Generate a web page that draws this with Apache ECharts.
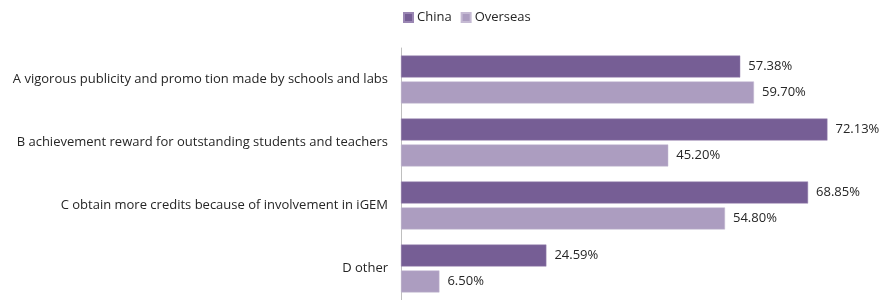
<!DOCTYPE html>
<html><head><meta charset="utf-8">
<script src="https://cdn.jsdelivr.net/npm/echarts@6/dist/echarts.min.js"></script>
<style>html,body{margin:0;padding:0;background:#fff}#c{width:881px;height:300px}</style>
</head><body><div id="c"></div>
<script>
const categories = [
  "A vigorous publicity and promo tion made by schools and labs",
  "B achievement reward for outstanding students and teachers",
  "C obtain more credits because of involvement in iGEM",
  "D other"
];
const china = [57.38, 72.13, 68.85, 24.59];
const overseas = [59.70, 45.20, 54.80, 6.50];
const seriesNames = ["China", "Overseas"];

const chart = echarts.init(document.getElementById('c'));
const font = "'Open Sans', 'Noto Sans', sans-serif";
chart.setOption({
  animation: false,
  textStyle: { fontFamily: font },
  legend: {
    top: 6, left: 398,
    itemWidth: 9, itemHeight: 9, itemGap: 9,
    icon: 'rect',
    textStyle: { fontSize: 13, color: '#262626', fontFamily: font, padding: [0,0,0,-1] },
    data: seriesNames
  },
  grid: { left: 401, right: 7, top: 48, bottom: -4, containLabel: false },
  xAxis: {
    type: 'value', min: 0, max: 80,
    axisLabel: { show: false }, splitLine: { show: false },
    axisLine: { show: false }, axisTick: { show: false }
  },
  yAxis: {
    type: 'category', inverse: true, data: categories,
    axisLine: { show: true, lineStyle: { color: '#bfbfbf', width: 1 } },
    axisTick: { show: false },
    axisLabel: { fontSize: 13, color: '#262626', margin: 13, fontFamily: font }
  },
  series: [
    { name: seriesNames[0], type: 'bar', data: china, barWidth: 22, barGap: '18%',
      itemStyle: { color: '#765e95', borderColor: '#9a86b3', borderWidth: 0.5 },
      label: { show: true, position: 'right', formatter: p => p.value.toFixed(2) + '%', fontSize: 13, color: '#262626', distance: 8 } },
    { name: seriesNames[1], type: 'bar', data: overseas, barWidth: 22,
      itemStyle: { color: '#ac9dc0', borderColor: '#c5bad3', borderWidth: 0.5 },
      label: { show: true, position: 'right', formatter: p => p.value.toFixed(2) + '%', fontSize: 13, color: '#262626', distance: 8 } }
  ]
});
</script></body></html>
